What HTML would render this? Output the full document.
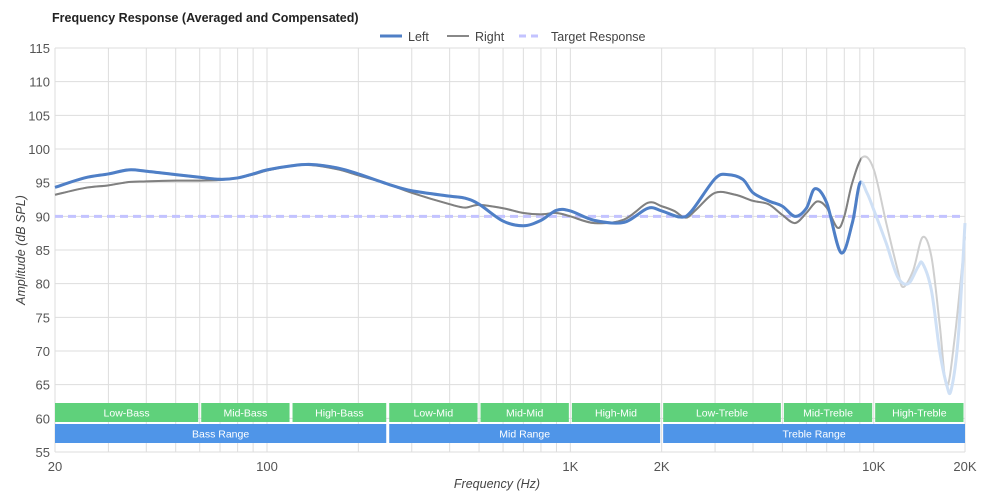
<!DOCTYPE html>
<html><head><meta charset="utf-8"><style>
body{margin:0;background:#fff;font-family:"Liberation Sans",sans-serif}
svg text{font-family:"Liberation Sans",sans-serif}
</style></head><body>
<svg id="chart" width="1000" height="499" xmlns="http://www.w3.org/2000/svg">
<text x="52" y="22" font-size="12.5" font-weight="bold" fill="#222">Frequency Response (Averaged and Compensated)</text>
<g>
<g><line x1="380" y1="36" x2="402" y2="36" stroke="#4f7fc6" stroke-width="3"/><text x="408" y="41" font-size="12.5" fill="#444">Left</text></g>
<g><line x1="447" y1="36" x2="469" y2="36" stroke="#888" stroke-width="2"/><text x="475" y="41" font-size="12.5" fill="#444">Right</text></g>
<g><line x1="519" y1="36" x2="543" y2="36" stroke="#c3c3ff" stroke-width="3" stroke-dasharray="7,5"/><text x="551" y="41" font-size="12.5" fill="#444">Target Response</text></g>
</g>
<g id="grid"></g>
<g id="bands"></g>
<g id="series"></g>
<g id="axes"></g>
<text x="497" y="488" font-size="12.5" font-style="italic" fill="#444" text-anchor="middle">Frequency (Hz)</text>
<text transform="translate(25,250) rotate(-90)" font-size="12.5" font-style="italic" fill="#444" text-anchor="middle">Amplitude (dB SPL)</text>
</svg>
<script>
const yTicks=[55,60,65,70,75,80,85,90,95,100,105,110,115];
const xGrid=[20,30,40,50,60,70,80,90,100,200,300,400,500,600,700,800,900,1000,2000,3000,4000,5000,6000,7000,8000,9000,10000,20000];
const xTickVals=[20,100,1000,2000,10000,20000];
const xTickLabels=["20","100","1K","2K","10K","20K"];
const targetLevel=90;
const leftFreq=[20,25,30,35,40,50,60,70,80,90,100,120,140,170,200,250,300,400,450,500,600,700,800,900,1000,1200,1500,1800,2000,2300,2500,3000,3300,3700,4000,4500,5000,5500,6000,6400,7000,7800,8500,9000,9500,10000,11000,12000,13000,14000,14500,15500,16500,17400,18000,19000,20000];
const leftDb=[94.3,95.7,96.3,96.9,96.7,96.2,95.8,95.5,95.7,96.3,96.9,97.5,97.7,97.2,96.3,94.8,93.8,93.0,92.7,91.8,89.3,88.6,89.4,90.9,90.8,89.4,89.1,91.2,90.8,89.9,90.7,95.6,96.2,95.5,93.5,92.3,91.5,90.0,91.2,94.1,92.0,84.6,89.0,94.9,93.5,91.0,86.0,81.0,80.0,82.5,83.0,79.0,70.0,65.0,64.2,72.0,89.0];
const rightFreq=[20,25,30,35,40,50,60,70,80,90,100,120,140,170,200,250,300,400,450,500,600,700,800,900,1000,1200,1500,1800,2000,2200,2400,2600,3000,3500,4000,4500,5000,5500,6000,6500,7000,7600,8000,8500,9200,10000,11000,12000,12500,13500,14500,15500,16500,17400,18500,20000];
const rightDb=[93.2,94.2,94.6,95.1,95.2,95.3,95.3,95.4,95.7,96.2,96.8,97.5,97.6,97.0,96.1,94.8,93.5,91.8,91.3,91.7,91.2,90.5,90.3,90.5,90.0,89.0,89.5,92.0,91.5,90.8,89.8,91.0,93.5,93.2,92.3,91.8,90.2,89.0,90.5,92.2,91.3,88.3,90.0,95.0,98.8,97.0,89.0,82.0,79.5,82.0,86.9,84.0,74.0,64.8,72.0,87.0];
const bandNames=["Low-Bass","Mid-Bass","High-Bass","Low-Mid","Mid-Mid","High-Mid","Low-Treble","Mid-Treble","High-Treble"];
const bandEdges=[20,60,120,250,500,1000,2000,5000,10000,20000];
const rangeNames=["Bass Range","Mid Range","Treble Range"];
const rangeEdges=[20,250,2000,20000];
const solidLimit=9100;

const X0=55,X1=965,Y0=452,Y1=48;
const xs=f=>X0+(X1-X0)*Math.log10(f/20)/3;
const ys=v=>Y0-(Y0-Y1)*(v-55)/60;
const NS="http://www.w3.org/2000/svg";
function mk(tag,attrs,parent){const e=document.createElementNS(NS,tag);for(const k in attrs)e.setAttribute(k,attrs[k]);parent.appendChild(e);return e;}
const grid=document.getElementById('grid'),axes=document.getElementById('axes'),bands=document.getElementById('bands'),series=document.getElementById('series');
yTicks.forEach(v=>{
 const l=mk('line',{x1:X0,x2:X1,y1:ys(v),y2:ys(v),stroke:'#ddd','stroke-width':1},grid);
 
 
 const t=mk('text',{x:X0-5,y:ys(v)+5,'font-size':13,fill:'#555','text-anchor':'end'},axes);t.textContent=v;
 
 
});
xGrid.forEach(f=>{
 const l=mk('line',{x1:xs(f),x2:xs(f),y1:Y1,y2:Y0,stroke:'#ddd','stroke-width':1},grid);
 
 
});
xTickVals.forEach((f,i)=>{
 const t=mk('text',{x:xs(f),y:Y0+19,'font-size':13,fill:'#555','text-anchor':'middle'},axes);t.textContent=xTickLabels[i];
 
 
});
bandNames.forEach((n,i)=>{
 const a=xs(bandEdges[i])+(i?1.5:0),b=xs(bandEdges[i+1])-1.5;
 const g=mk('g',{},bands);
 
 
 mk('rect',{x:a,y:403,width:b-a,height:19,fill:'#5fd17b'},g);
 const t=mk('text',{x:(a+b)/2,y:416.5,'font-size':10.5,fill:'#fff','text-anchor':'middle'},g);t.textContent=n;
});
rangeNames.forEach((n,i)=>{
 const a=xs(rangeEdges[i])+(i?1.5:0),b=xs(rangeEdges[i+1])-(i<2?1.5:0);
 const g=mk('g',{},bands);
 
 
 mk('rect',{x:a,y:424,width:b-a,height:19,fill:'#4f95e8'},g);
 const t=mk('text',{x:(a+b)/2,y:437.5,'font-size':10.5,fill:'#fff','text-anchor':'middle'},g);t.textContent=n;
});
const tl=mk('line',{x1:X0,x2:X1,y1:ys(targetLevel),y2:ys(targetLevel),stroke:'#c3c3ff','stroke-width':3,'stroke-dasharray':'8,5'},series);


function pathD(fr,db){
 const p=fr.map((f,i)=>[xs(f),ys(db[i])]);
 let d='M'+p[0][0]+','+p[0][1];
 for(let i=0;i<p.length-1;i++){
  const p0=p[i-1]||p[i],p1=p[i],p2=p[i+1],p3=p[i+2]||p2;
  const c1=[p1[0]+(p2[0]-p0[0])/6,p1[1]+(p2[1]-p0[1])/6],c2=[p2[0]-(p3[0]-p1[0])/6,p2[1]-(p3[1]-p1[1])/6];
  d+='C'+c1+' '+c2+' '+p2;
 }
 return d;
}
const defs=mk('defs',{},series);
const cp=mk('clipPath',{id:'solidclip'},defs);
mk('rect',{x:0,y:0,width:xs(solidLimit),height:499},cp);
const rf=mk('path',{d:pathD(rightFreq,rightDb),fill:'none',stroke:'#cfcfcf','stroke-width':2},series);


const lf=mk('path',{d:pathD(leftFreq,leftDb),fill:'none',stroke:'#cfe0f5','stroke-width':3},series);


const rs=mk('path',{d:pathD(rightFreq,rightDb),fill:'none',stroke:'#808080','stroke-width':2,'clip-path':'url(#solidclip)'},series);


const ls=mk('path',{d:pathD(leftFreq,leftDb),fill:'none',stroke:'#4f7fc6','stroke-width':3,'clip-path':'url(#solidclip)'},series);


</script>
</body></html>
